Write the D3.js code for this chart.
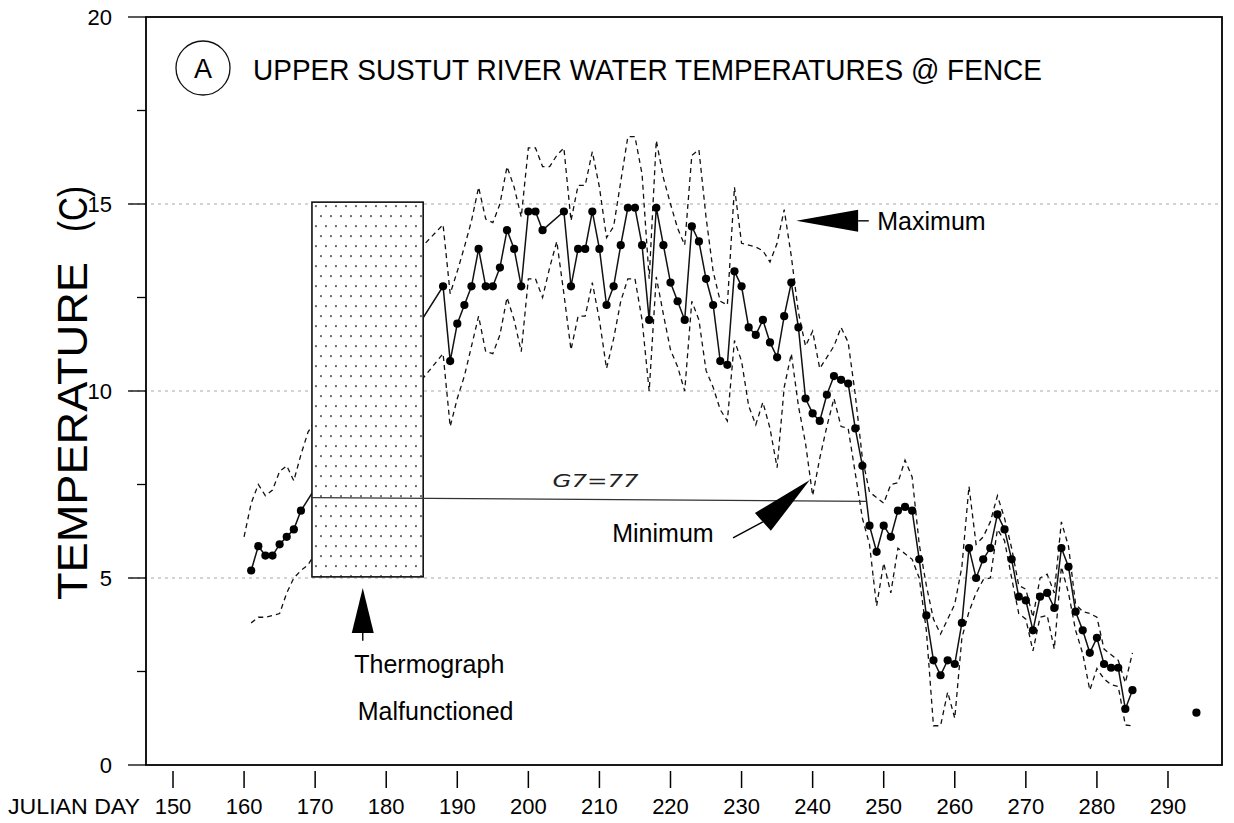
<!DOCTYPE html>
<html>
<head>
<meta charset="utf-8">
<script src="https://cdn.jsdelivr.net/npm/d3@7"></script>
<style>
  html, body { margin: 0; padding: 0; background: #fff; }
  svg { display: block; font-family: "Liberation Sans", Arial, Helvetica, sans-serif; }
</style>
</head>
<body>
<svg id="chart" width="1234" height="823"></svg>
<script>
// Upper Sustut River at the fence: daily water temperature (°C) by Julian day

// Daily mean (dots). The thermograph was out between days 169 and 187.
const meanDays = [161, 162, 163, 164, 165, 166, 167, 168,
  188, 189, 190, 191, 192, 193, 194, 195, 196, 197, 198, 199, 200, 201, 202,
  205, 206, 207, 208, 209, 210, 211, 212, 213, 214, 215, 216, 217, 218, 219, 220,
  221, 222, 223, 224, 225, 226, 227, 228, 229, 230, 231, 232, 233, 234, 235, 236,
  237, 238, 239, 240, 241, 242, 243, 244, 245, 246, 247, 248, 249, 250, 251, 252,
  253, 254, 255, 256, 257, 258, 259, 260, 261, 262, 263, 264, 265, 266, 267, 268,
  269, 270, 271, 272, 273, 274, 275, 276, 277, 278, 279, 280, 281, 282, 283, 284,
  285, 294];
const meanTemps = [5.2, 5.85, 5.6, 5.6, 5.9, 6.1, 6.3, 6.8,
  12.8, 10.8, 11.8, 12.3, 12.8, 13.8, 12.8, 12.8, 13.3, 14.3, 13.8, 12.8, 14.8, 14.8, 14.3,
  14.8, 12.8, 13.8, 13.8, 14.8, 13.8, 12.3, 12.8, 13.9, 14.9, 14.9, 13.9, 11.9, 14.9, 13.9, 12.9,
  12.4, 11.9, 14.4, 14.0, 13.0, 12.3, 10.8, 10.7, 13.2, 12.8, 11.7, 11.5, 11.9, 11.3, 10.9, 12.0,
  12.9, 11.7, 9.8, 9.4, 9.2, 9.9, 10.4, 10.3, 10.2, 9.0, 8.0, 6.4, 5.7, 6.4, 6.1, 6.8,
  6.9, 6.8, 5.5, 4.0, 2.8, 2.4, 2.8, 2.7, 3.8, 5.8, 5.0, 5.5, 5.8, 6.7, 6.3, 5.5,
  4.5, 4.4, 3.6, 4.5, 4.6, 4.2, 5.8, 5.3, 4.1, 3.6, 3.0, 3.4, 2.7, 2.6, 2.6, 1.5,
  2.0, 1.4];
// The last reading stands alone; the line runs only through the continuous record
const lastContinuousDay = 285;

// Daily maximum (upper dashed line)
const maxDays = [160, 161, 162, 163, 164, 165, 166, 167, 168, 169, 185,
  188, 189, 190, 191, 192, 193, 194, 195, 196, 197, 198, 199, 200, 201, 202, 203, 204,
  205, 206, 207, 208, 209, 210, 211, 212, 213, 214, 215, 216, 217, 218, 219, 220,
  221, 222, 223, 224, 225, 226, 227, 228, 229, 230, 231, 232, 233, 234, 235, 236,
  237, 238, 239, 240, 241, 242, 243, 244, 245, 246, 247, 248, 249, 250, 251, 252,
  253, 254, 255, 256, 257, 258, 259, 260, 261, 262, 263, 264, 265, 266, 267, 268,
  269, 270, 271, 272, 273, 274, 275, 276, 277, 278, 279, 280, 281, 282, 283, 284, 285];
const maxTemps = [6.1, 7.0, 7.5, 7.2, 7.35, 7.85, 8.0, 7.6, 8.3, 8.9, 13.85,
  14.45, 12.6, 13.2, 13.85, 14.55, 15.45, 14.6, 14.5, 15.0, 16.0, 15.45, 14.65, 16.5, 16.5, 16.0, 16.0, 16.3,
  16.5, 14.55, 15.5, 15.5, 16.4, 15.45, 14.1, 14.4, 15.6, 16.8, 16.8, 15.8, 13.0, 16.7, 15.7, 15.0,
  14.35, 13.9, 16.3, 16.45, 14.65, 13.2, 12.4, 12.3, 15.45, 13.95, 13.9, 13.85, 13.75, 13.45, 13.95, 14.85,
  13.6, 12.1, 11.2, 11.6, 10.6, 10.9, 11.2, 11.7, 11.3, 9.9, 8.2, 7.3, 7.15, 7.0, 7.5, 7.55,
  8.15, 7.7, 5.9, 4.8, 3.9, 3.5, 3.9, 4.3, 5.3, 7.45, 5.9, 6.1, 6.5, 7.2, 6.6, 5.8,
  4.8, 4.7, 3.95, 5.0, 5.1, 4.6, 6.5, 5.85, 4.3, 4.1, 4.05, 3.95, 3.1, 2.95, 2.8, 2.2, 3.0];

// Daily minimum (lower dashed line)
const minDays = [161, 162, 163, 164, 165, 166, 167, 168, 169, 185,
  188, 189, 190, 191, 192, 193, 194, 195, 196, 197, 198, 199, 200, 201, 202, 203, 204,
  205, 206, 207, 208, 209, 210, 211, 212, 213, 214, 215, 216, 217, 218, 219, 220,
  221, 222, 223, 224, 225, 226, 227, 228, 229, 230, 231, 232, 233, 234, 235, 236,
  237, 238, 239, 240, 241, 242, 243, 244, 245, 246, 247, 248, 249, 250, 251, 252,
  253, 254, 255, 256, 257, 258, 259, 260, 261, 262, 263, 264, 265, 266, 267, 268,
  269, 270, 271, 272, 273, 274, 275, 276, 277, 278, 279, 280, 281, 282, 283, 284, 285];
const minTemps = [3.8, 3.95, 3.95, 4.0, 4.05, 4.6, 5.0, 5.2, 5.35, 10.3,
  11.0, 9.05, 9.8, 10.4, 11.2, 12.0, 11.05, 11.0, 11.5, 12.5, 11.9, 11.05, 13.0, 13.0, 12.5, 13.3, 14.0,
  12.6, 11.1, 12.0, 12.0, 12.9, 11.9, 10.6, 11.4, 12.4, 13.0, 13.0, 11.9, 10.0, 13.05, 12.05, 11.1,
  10.65, 10.0, 12.4, 11.9, 10.55, 10.1, 9.5, 9.2, 11.35, 10.8, 9.6, 9.1, 9.7, 9.0, 7.95, 10.1,
  11.0, 9.6, 8.6, 7.2, 8.2, 9.05, 9.8, 9.05, 9.0, 7.8, 6.6, 5.9, 4.25, 5.4, 4.6, 5.8,
  5.65, 5.5, 5.0, 3.6, 1.05, 1.05, 1.95, 1.25, 3.4, 4.1, 4.6, 4.95, 5.0, 6.3, 6.0, 5.0,
  4.05, 3.9, 3.05, 3.95, 4.0, 3.1, 5.3, 4.6, 3.6, 2.98, 2.0, 2.58, 2.3, 2.15, 2.1, 1.07, 1.05];

// Axis ticks
const xTicks = [150, 160, 170, 180, 190, 200, 210, 220, 230, 240, 250, 260, 270, 280, 290];
const yTicks = [0, 5, 10, 15, 20];
const yMinorTicks = [2.5, 7.5, 12.5, 17.5];
const gridTemps = [5, 10, 15];

// Thermograph outage block (days / °C)
const outageDays = [169.55, 185.2];
const outageTemps = [5.03, 15.05];

const svg = d3.select("#chart");
const plotLeft = 146, plotRight = 1222, plotTop = 17, plotBottom = 765;

const x = d3.scaleLinear().domain([146.2, 297.6]).range([plotLeft, plotRight]);
const y = d3.scaleLinear().domain([0, 20]).range([plotBottom, plotTop]);

const mean = meanDays.map((d, i) => ({ day: d, t: meanTemps[i] }));
const maxima = maxDays.map((d, i) => ({ day: d, t: maxTemps[i] }));
const minima = minDays.map((d, i) => ({ day: d, t: minTemps[i] }));

// Stipple for the outage block
const defs = svg.append("defs");
const pat = defs.append("pattern").attr("id", "stipple")
  .attr("patternUnits", "userSpaceOnUse").attr("width", 10).attr("height", 20)
  .attr("x", x(outageDays[0])).attr("y", y(outageTemps[1]));
pat.append("circle").attr("cx", 4).attr("cy", 4).attr("r", 0.9).attr("fill", "#222");
pat.append("circle").attr("cx", 9).attr("cy", 14).attr("r", 0.9).attr("fill", "#222");

// Horizontal reference lines
svg.append("g").selectAll("line").data(gridTemps).join("line")
  .attr("x1", plotLeft - 16).attr("x2", plotRight)
  .attr("y1", d => y(d)).attr("y2", d => y(d))
  .attr("stroke", "#a8a8a8").attr("stroke-width", 1)
  .attr("stroke-dasharray", "3,4");

const line = d3.line().x(d => x(d.day)).y(d => y(d.t));

// Max / min envelopes
svg.append("path").datum(maxima).attr("d", line)
  .attr("fill", "none").attr("stroke", "#111").attr("stroke-width", 1.3)
  .attr("stroke-dasharray", "5,4");
svg.append("path").datum(minima).attr("d", line)
  .attr("fill", "none").attr("stroke", "#111").attr("stroke-width", 1.3)
  .attr("stroke-dasharray", "5,4");

// Mean line and dots
svg.append("path").datum(mean.filter(d => d.day <= lastContinuousDay)).attr("d", line)
  .attr("fill", "none").attr("stroke", "#111").attr("stroke-width", 1.5);
svg.append("g").selectAll("circle").data(mean).join("circle")
  .attr("cx", d => x(d.day)).attr("cy", d => y(d.t)).attr("r", 4.1)
  .attr("fill", "#000");

// Outage block
const ox = x(outageDays[0]), ow = x(outageDays[1]) - x(outageDays[0]);
const oy = y(outageTemps[1]), oh = y(outageTemps[0]) - y(outageTemps[1]);
svg.append("rect").attr("x", ox).attr("y", oy).attr("width", ow).attr("height", oh)
  .attr("fill", "#fff");
svg.append("rect").attr("x", ox).attr("y", oy).attr("width", ow).attr("height", oh)
  .attr("fill", "url(#stipple)").attr("stroke", "#111").attr("stroke-width", 1.6);

// Period above 7 °C, drawn by hand across the chart
svg.append("line")
  .attr("x1", x(169.55)).attr("y1", y(7.15)).attr("x2", x(247.6)).attr("y2", y(7.05))
  .attr("stroke", "#333").attr("stroke-width", 1.3);
svg.append("text").attr("x", x(203.4)).attr("y", y(7.42))
  .attr("font-family", "DejaVu Sans, sans-serif").attr("font-style", "italic")
  .attr("font-size", 18).attr("fill", "#222")
  .attr("textLength", 86).attr("lengthAdjust", "spacingAndGlyphs").text("G7=77");

// Arrow helper: filled dart from tip back to base centre
function dart(tip, base, half) {
  const dx = tip[0] - base[0], dy = tip[1] - base[1];
  const len = Math.hypot(dx, dy);
  const px = -dy / len * half, py = dx / len * half;
  return [tip, [base[0] + px, base[1] + py], [base[0] - px, base[1] - py]];
}
const arrows = [
  { tip: [237.7, 14.55], base: [246.4, 14.55], tail: [247.9, 14.55], half: 11 },
  { tip: [239.6, 7.62], base: [233.0, 6.5], tail: [228.8, 6.07], half: 12 },
  { tip: [176.7, 4.73], base: [176.7, 3.53], tail: [176.7, 3.32], half: 11 }
];
arrows.forEach(a => {
  const tip = [x(a.tip[0]), y(a.tip[1])], base = [x(a.base[0]), y(a.base[1])];
  svg.append("polygon").attr("points", dart(tip, base, a.half).map(p => p.join(",")).join(" "))
    .attr("fill", "#000");
  svg.append("line").attr("x1", base[0]).attr("y1", base[1])
    .attr("x2", x(a.tail[0])).attr("y2", y(a.tail[1]))
    .attr("stroke", "#000").attr("stroke-width", 1.4);
});

// Annotation labels
const labelFont = 25;
svg.append("text").attr("x", x(249.1)).attr("y", y(14.3)).attr("font-size", labelFont).text("Maximum");
svg.append("text").attr("x", x(211.8)).attr("y", y(5.95)).attr("font-size", labelFont).text("Minimum");
svg.append("text").attr("x", x(175.5)).attr("y", y(2.45)).attr("font-size", labelFont).text("Thermograph");
svg.append("text").attr("x", x(176.0)).attr("y", y(1.2)).attr("font-size", labelFont).text("Malfunctioned");

// Panel tag and title
svg.append("circle").attr("cx", 203).attr("cy", 68).attr("r", 27)
  .attr("fill", "none").attr("stroke", "#111").attr("stroke-width", 1.3);
svg.append("text").attr("x", 203).attr("y", 78).attr("text-anchor", "middle")
  .attr("font-size", 27).text("A");
svg.append("text").attr("x", 253).attr("y", 80).attr("font-size", 29)
  .attr("textLength", 789).attr("lengthAdjust", "spacingAndGlyphs")
  .text("UPPER SUSTUT RIVER WATER TEMPERATURES @ FENCE");

// Frame
svg.append("rect").attr("x", plotLeft).attr("y", plotTop)
  .attr("width", plotRight - plotLeft).attr("height", plotBottom - plotTop)
  .attr("fill", "none").attr("stroke", "#000").attr("stroke-width", 1.8);

// Y axis ticks and labels
svg.append("g").selectAll("line").data(yTicks).join("line")
  .attr("x1", plotLeft - 18).attr("x2", plotLeft).attr("y1", d => y(d)).attr("y2", d => y(d))
  .attr("stroke", "#000").attr("stroke-width", 1.3);
svg.append("g").selectAll("line").data(yMinorTicks).join("line")
  .attr("x1", plotLeft - 9).attr("x2", plotLeft).attr("y1", d => y(d)).attr("y2", d => y(d))
  .attr("stroke", "#000").attr("stroke-width", 1.3);
svg.append("g").selectAll("text").data(yTicks).join("text")
  .attr("x", 112).attr("y", d => y(d)).attr("dy", "0.35em")
  .attr("text-anchor", "end").attr("font-size", 22).text(d => d);

// X axis ticks and labels
svg.append("g").selectAll("line").data(xTicks).join("line")
  .attr("x1", d => x(d)).attr("x2", d => x(d)).attr("y1", plotBottom + 6).attr("y2", plotBottom + 23)
  .attr("stroke", "#000").attr("stroke-width", 1.5);
svg.append("g").selectAll("text").data(xTicks).join("text")
  .attr("x", d => x(d)).attr("y", 814).attr("text-anchor", "middle")
  .attr("font-size", 22).text(d => d);
svg.append("text").attr("x", 8).attr("y", 814).attr("font-size", 22)
  .attr("textLength", 132).attr("lengthAdjust", "spacingAndGlyphs").text("JULIAN DAY");

// Y axis title
svg.append("text").attr("transform", "translate(87,600) rotate(-90)")
  .attr("font-size", 42).attr("textLength", 338).attr("lengthAdjust", "spacingAndGlyphs")
  .text("TEMPERATURE");
svg.append("text").attr("transform", "translate(87,232) rotate(-90)")
  .attr("font-size", 40).attr("textLength", 46).attr("lengthAdjust", "spacingAndGlyphs")
  .text("(C)");
</script>
</body>
</html>
